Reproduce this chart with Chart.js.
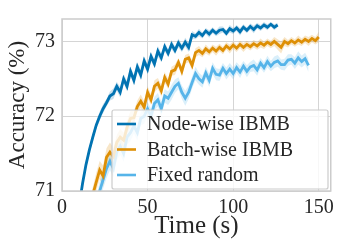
<!DOCTYPE html>
<html>
<head>
<meta charset="utf-8">
<script src="https://cdn.jsdelivr.net/npm/chart.js@4/dist/chart.umd.min.js"></script>
<style>
  html, body { margin: 0; padding: 0; background: #fff; }
  #wrap { width: 339px; height: 243px; }
</style>
</head>
<body>
<div id="wrap"><canvas id="c" width="339" height="243"></canvas></div>
<script>
'use strict';

var seriesNames = ['Node-wise IBMB', 'Batch-wise IBMB', 'Fixed random'];
var seriesColors = ['#0173B2', '#DE8F05', '#56B4E9'];
var xTicks = [0, 50, 100, 150];
var yTicks = [71, 72, 73];

var nodeTime = [10, 12, 14, 16, 18, 20, 22, 24, 26, 28, 30, 32, 34, 36, 38, 40, 42, 44, 46, 48,
    50, 52, 54, 56, 58, 60, 62, 64, 66, 68, 70, 72, 74, 76, 78, 80, 82, 84, 86, 88,
    90, 92, 94, 96, 98, 100, 102, 104, 106, 108, 110, 112, 114, 116, 118, 120, 122, 124, 126];
var nodeAcc = [70.8, 71.1, 71.35, 71.55, 71.72, 71.88, 72.0, 72.1, 72.18, 72.27, 72.3, 72.4, 72.32, 72.5, 72.4, 72.6, 72.48, 72.66, 72.55, 72.74,
    72.63, 72.8, 72.7, 72.87, 72.78, 72.93, 72.84, 72.96, 72.88, 72.98, 72.91, 72.99, 72.92, 73.09, 73.07, 73.12, 73.08, 73.14, 73.1, 73.15,
    73.11, 73.15, 73.16, 73.11, 73.17, 73.14, 73.18, 73.13, 73.19, 73.15, 73.2, 73.16, 73.21, 73.18, 73.22, 73.19, 73.23, 73.19, 73.22];
var nodeSpread = [0.06, 0.06, 0.06, 0.05, 0.06, 0.05, 0.06, 0.06, 0.05, 0.06, 0.07, 0.06, 0.07, 0.06, 0.07, 0.06, 0.07, 0.06, 0.07, 0.06,
    0.07, 0.06, 0.06, 0.07, 0.06, 0.06, 0.05, 0.06, 0.05, 0.06, 0.05, 0.06, 0.06, 0.05, 0.04, 0.05, 0.04, 0.04, 0.05, 0.04,
    0.04, 0.05, 0.04, 0.04, 0.05, 0.04, 0.04, 0.05, 0.04, 0.04, 0.04, 0.05, 0.04, 0.04, 0.04, 0.04, 0.03, 0.04, 0.03];

var batchTime = [16, 18, 20, 22, 24, 26, 28, 30, 32, 34, 36, 38, 40, 42, 44, 46, 48, 50, 52, 54,
    56, 58, 60, 62, 64, 66, 68, 70, 72, 74, 76, 78, 80, 82, 84, 86, 88, 90, 92, 94,
    96, 98, 100, 102, 104, 106, 108, 110, 112, 114, 116, 118, 120, 122, 124, 126, 128, 130, 132, 134,
    136, 138, 140, 142, 144, 146, 148, 150];
var batchAcc = [70.8, 70.95, 71.12, 71.28, 71.2, 71.45, 71.52, 71.46, 71.65, 71.72, 71.68, 71.85, 71.97, 71.98, 72.13, 72.2, 72.12, 72.32, 72.22, 72.4,
    72.44, 72.34, 72.52, 72.43, 72.6, 72.62, 72.72, 72.6, 72.76, 72.78, 72.68, 72.85, 72.88, 72.84, 72.9, 72.86, 72.91, 72.87, 72.92, 72.88,
    72.94, 72.9, 72.95, 72.91, 72.96, 72.92, 72.96, 72.93, 72.97, 72.94, 72.98, 72.95, 72.99, 72.96, 73.0, 72.96, 72.92, 73.0, 72.97, 73.01,
    72.98, 73.02, 72.99, 73.03, 73.0, 73.04, 73.01, 73.06];
var batchSpread = [0.1, 0.1, 0.12, 0.12, 0.14, 0.12, 0.13, 0.12, 0.1, 0.11, 0.1, 0.09, 0.1, 0.09, 0.08, 0.09, 0.08, 0.08, 0.07, 0.08,
    0.07, 0.08, 0.07, 0.07, 0.06, 0.07, 0.06, 0.07, 0.06, 0.06, 0.07, 0.06, 0.06, 0.05, 0.06, 0.05, 0.05, 0.06, 0.05, 0.05,
    0.05, 0.06, 0.05, 0.05, 0.05, 0.06, 0.05, 0.05, 0.05, 0.05, 0.06, 0.05, 0.05, 0.05, 0.06, 0.07, 0.08, 0.06, 0.05, 0.05,
    0.05, 0.06, 0.05, 0.05, 0.06, 0.05, 0.05, 0.07];

var fixedTime = [20, 22, 24, 26, 28, 30, 32, 34, 36, 38, 40, 42, 44, 46, 48, 50, 52, 54, 56, 58,
    60, 62, 64, 66, 68, 70, 72, 74, 76, 78, 80, 82, 84, 86, 88, 90, 92, 94, 96, 98,
    100, 102, 104, 106, 108, 110, 112, 114, 116, 118, 120, 122, 124, 126, 128, 130, 132, 134, 136, 138,
    140, 142, 144];
var fixedAcc = [70.8, 71.0, 71.15, 71.3, 71.4, 71.3, 71.52, 71.6, 71.5, 71.72, 71.78, 71.87, 71.78, 71.97, 72.0, 72.1, 72.0, 72.17, 72.22, 72.1,
    72.27, 72.24, 72.32, 72.4, 72.44, 72.32, 72.24, 72.32, 72.45, 72.57, 72.5, 72.46, 72.58, 72.48, 72.64, 72.56, 72.55, 72.64, 72.57, 72.63,
    72.57, 72.65, 72.59, 72.67, 72.6, 72.66, 72.68, 72.62, 72.71, 72.65, 72.73, 72.67, 72.72, 72.74, 72.69, 72.69, 72.75, 72.76, 72.71, 72.78,
    72.73, 72.77, 72.68];
var fixedSpread = [0.12, 0.12, 0.12, 0.13, 0.12, 0.12, 0.11, 0.12, 0.11, 0.1, 0.11, 0.1, 0.1, 0.09, 0.1, 0.09, 0.1, 0.09, 0.09, 0.1,
    0.09, 0.09, 0.1, 0.09, 0.08, 0.09, 0.1, 0.09, 0.08, 0.09, 0.08, 0.08, 0.08, 0.09, 0.08, 0.08, 0.08, 0.07, 0.08, 0.08,
    0.08, 0.07, 0.08, 0.07, 0.08, 0.07, 0.08, 0.08, 0.07, 0.07, 0.08, 0.07, 0.08, 0.08, 0.07, 0.08, 0.08, 0.07, 0.08, 0.09,
    0.08, 0.08, 0.09];

var FONT = "'Liberation Serif', 'Times New Roman', serif";
var TEXT = '#262626';

Chart.defaults.font.family = FONT;
Chart.defaults.color = TEXT;

function pts(times, vals, off) {
    return times.map(function(t, i) {
        return { x: t, y: vals[i] + (off ? off[i] : 0) };
    });
}
function neg(arr) {
    return arr.map(function(v) { return -v; });
}
function alpha(hex, a) {
    var n = parseInt(hex.slice(1), 16);
    return 'rgba(' + (n >> 16) + ',' + ((n >> 8) & 255) + ',' + (n & 255) + ',' + a + ')';
}

var groups = [
    [nodeTime, nodeAcc, nodeSpread],
    [batchTime, batchAcc, batchSpread],
    [fixedTime, fixedAcc, fixedSpread]
];

var datasets = [];
// mean lines first so they are drawn on top of every band
groups.forEach(function(g, k) {
    datasets.push({
        label: seriesNames[k],
        data: pts(g[0], g[1]),
        borderColor: seriesColors[k],
        borderWidth: 2.8,
        pointRadius: 0,
        tension: 0,
        fill: false,
        order: 0
    });
});
groups.forEach(function(g, k) {
    var upperIndex = datasets.length;
    datasets.push({
        label: '_band',
        data: pts(g[0], g[1], g[2]),
        borderWidth: 0,
        pointRadius: 0,
        backgroundColor: alpha(seriesColors[k], 0.22),
        fill: upperIndex + 1,
        order: 1
    });
    datasets.push({
        label: '_band',
        data: pts(g[0], g[1], neg(g[2])),
        borderWidth: 0,
        pointRadius: 0,
        fill: false,
        order: 1
    });
});

var overlay = {
    id: 'overlay',
    afterDatasetsDraw: function(chart) {
        var a = chart.chartArea;
        var ctx = chart.ctx;
        ctx.save();
        ctx.strokeStyle = '#cccccc';
        ctx.lineWidth = 1.5;
        ctx.strokeRect(a.left, a.top, a.right - a.left, a.bottom - a.top);
        ctx.restore();
    },
    afterDraw: function(chart) {
        var a = chart.chartArea;
        var ctx = chart.ctx;
        var bx = a.left + 50, by = a.top + 91, bw = 216, bh = 79;
        ctx.save();
        ctx.fillStyle = 'rgba(255,255,255,0.8)';
        ctx.strokeStyle = '#cccccc';
        ctx.lineWidth = 1.2;
        ctx.beginPath();
        ctx.roundRect(bx, by, bw, bh, 2);
        ctx.fill();
        ctx.stroke();
        ctx.font = '20px ' + FONT;
        ctx.textBaseline = 'middle';
        ctx.fillStyle = TEXT;
        for (var i = 0; i < seriesNames.length; i++) {
            var cy = by + 14 + i * 25.5;
            ctx.strokeStyle = seriesColors[i];
            ctx.lineWidth = 2.6;
            ctx.beginPath();
            ctx.moveTo(bx + 5, cy);
            ctx.lineTo(bx + 24, cy);
            ctx.stroke();
            ctx.fillText(seriesNames[i], bx + 35, cy + 1);
        }
        ctx.restore();
    }
};

new Chart(document.getElementById('c').getContext('2d'), {
    type: 'line',
    data: { datasets: datasets },
    plugins: [overlay],
    options: {
        responsive: false,
        animation: false,
        layout: { padding: { top: 7, right: 5, left: 0, bottom: 0 } },
        plugins: {
            legend: { display: false },
            tooltip: { enabled: false },
            filler: { propagate: false }
        },
        scales: {
            x: {
                type: 'linear',
                min: 0,
                max: 157,
                afterFit: function(s) { s.height = 52; },
                afterBuildTicks: function(s) {
                    s.ticks = xTicks.map(function(v) { return { value: v }; });
                },
                grid: { color: '#d5d5d5', lineWidth: 1, drawTicks: false },
                border: { display: false },
                ticks: { padding: 5, color: TEXT, font: { family: FONT, size: 20 } },
                title: {
                    display: true,
                    text: 'Time (s)',
                    color: TEXT,
                    font: { family: FONT, size: 25 },
                    padding: { top: 0, bottom: 2 }
                }
            },
            y: {
                min: 71,
                max: 73.3,
                afterFit: function(s) { s.width = 62; },
                afterBuildTicks: function(s) {
                    s.ticks = yTicks.map(function(v) { return { value: v }; });
                },
                grid: { color: '#d5d5d5', lineWidth: 1, drawTicks: false },
                border: { display: false },
                ticks: { padding: 7, color: TEXT, font: { family: FONT, size: 20 } },
                title: {
                    display: true,
                    text: 'Accuracy (%)',
                    color: TEXT,
                    font: { family: FONT, size: 23 },
                    padding: { top: 4, bottom: 0 }
                }
            }
        }
    }
});
</script>
</body>
</html>
